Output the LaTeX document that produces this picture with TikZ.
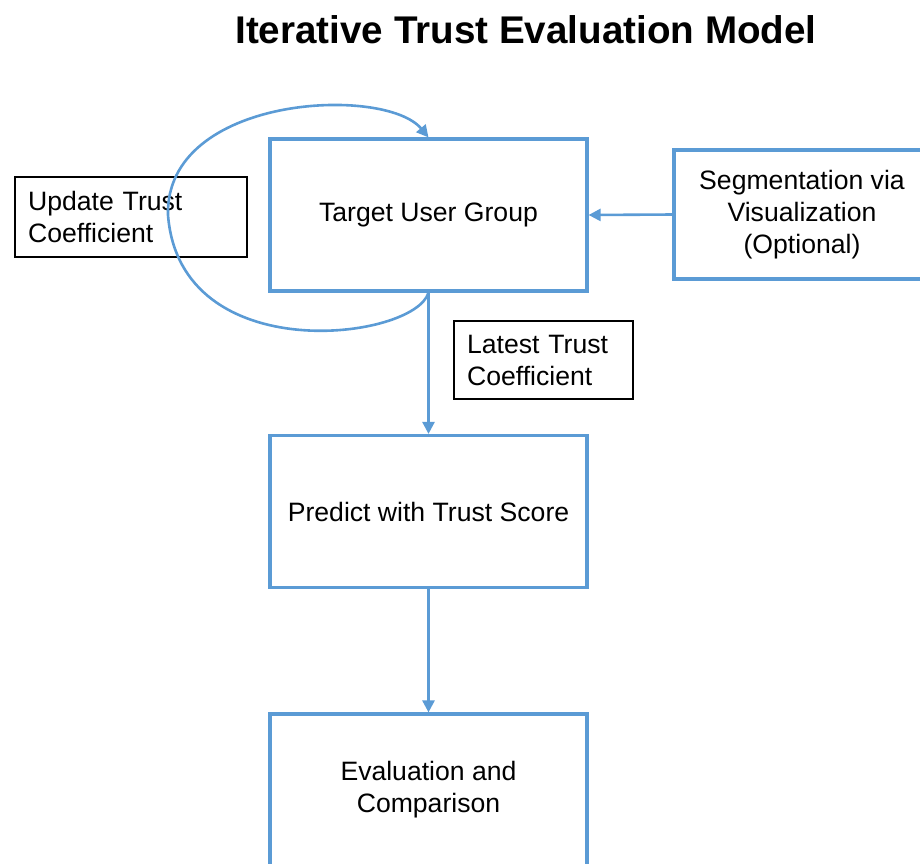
\documentclass[tikz,border=0pt]{standalone}
\usepackage{fontspec}
\setmainfont{Liberation Sans}
\usetikzlibrary{arrows.meta}
\definecolor{tblue}{RGB}{91,155,213}
\tikzset{
  blk/.style={draw=tblue,line width=1.6pt,minimum width=158.5pt,minimum height=76pt,
    align=center,font=\fontsize{13.3}{16}\selectfont},
  lbl/.style={draw,line width=1.1pt,align=left,anchor=north west,inner xsep=6.5pt,
    font=\fontsize{13.3}{16}\selectfont},
  flow/.style={->,draw=tblue,line width=1.3pt}
}

\begin{document}
\begin{tikzpicture}[x=0.5pt,y=-0.5pt,>={Triangle[length=6pt,width=6pt]}]
\useasboundingbox (0,0) rectangle (920,863);
\clip (0,0) rectangle (920,863);
% 标题
\node (title) at (526,30) {\fontsize{19.3}{22}\selectfont\bfseries Iterative Trust Evaluation Model};
% 主流程
\node[blk] (tug) at (428.5,215) {Target User Group};
\node[blk] (pred) at (428.5,511.5) {Predict with Trust Score};
\node[blk] (eval) at (428.5,790) {Evaluation and\\Comparison};
% 右侧（可选）
\node[blk,minimum width=128pt,minimum height=64.5pt] (seg) at (802,214.5)
  {Segmentation via\\Visualization\\(Optional)};
% 说明框
\node[lbl,text width=103pt,minimum height=40pt] (upd) at (14,176) {Update Trust\\Coefficient};
\node[lbl,text width=76.5pt,minimum height=39pt] (late) at (453,320) {Latest Trust\\Coefficient};
% 箭头
\draw[flow] (seg.west) -- (tug.east);
\draw[flow] (tug.south) -- (pred.north);
\draw[flow] (pred.south) -- (eval.north);
% 回环：更新信任系数
\draw[flow] (tug.south) .. controls (415,340) and (180,370) .. (168,215)
  .. controls (165,95) and (385,85) .. (tug.north);
\end{tikzpicture}
\end{document}
